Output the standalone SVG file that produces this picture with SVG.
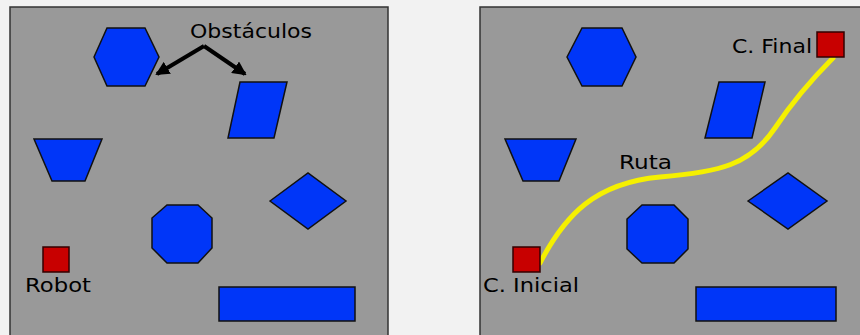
<svg xmlns="http://www.w3.org/2000/svg" width="860" height="335" viewBox="0 0 860 335">
<style>
.panel{fill:#999999;stroke:#333333;stroke-width:1.5}
.obs{fill:#0036f8;stroke:#111111;stroke-width:1.5;stroke-linejoin:miter}
.robot{fill:#c80000;stroke:#330000;stroke-width:1.5}
.lbl{font-family:"DejaVu Sans",Verdana,sans-serif;font-size:20px;fill:#000000}
.arrow{fill:none;stroke:#000;stroke-width:4;stroke-linejoin:miter}
.route{fill:none;stroke:#f5f000;stroke-width:5;stroke-linecap:round}
</style>
<defs>
<marker id="ah" markerWidth="3.5" markerHeight="3.5" refX="3" refY="1.75" orient="auto" markerUnits="strokeWidth">
<path d="M0,0 L3.5,1.75 L0,3.5 Z" fill="#000"/>
</marker>
</defs>
<rect x="0" y="0" width="860" height="335" fill="#f2f2f2"/>
<g id="panel-left">
<rect class="panel" x="10" y="7" width="378" height="340"/>
</g>
<g id="panel-right">
<rect class="panel" x="480" y="7" width="390" height="340"/>
</g>
<g id="left-obstacles">
<polygon id="l-hexagon" class="obs" points="94,57 107,28 145,28 159,57 145,86 107,86"/>
<polygon id="l-parallelogram" class="obs" points="240,82 287,82 274,138 228,138"/>
<polygon id="l-trapezoid" class="obs" points="34,139 102,139 85,181 52,181"/>
<polygon id="l-diamond" class="obs" points="270,201 308,173 346,201 308,229"/>
<polygon id="l-octagon" class="obs" points="167,205 198,205 212,218 212,248 198,263 167,263 152,248 152,218"/>
<rect id="l-rect" class="obs" x="219" y="287" width="136" height="34"/>
</g>
<g id="robot">
<rect class="robot" x="43" y="247" width="26" height="25"/>
<text class="lbl" x="25" y="292" textLength="66" lengthAdjust="spacingAndGlyphs">Robot</text>
</g>
<g id="label-obstaculos">
<text class="lbl" x="190" y="38" textLength="122" lengthAdjust="spacingAndGlyphs">Obstáculos</text>
</g>
<g id="connectors">
<path class="arrow" d="M204,46 L157,74" marker-end="url(#ah)"/>
<path class="arrow" d="M204,46 L245,74" marker-end="url(#ah)"/>
<path id="ruta" class="route" d="M540,263 C565,215 595,183 660,177 C720,172 750,165 775,128 C795,98 815,76 833,58"/>
</g>
<g id="right-obstacles">
<polygon id="r-hexagon" class="obs" points="567,57 582,28 622,28 636,57 622,86 582,86"/>
<polygon id="r-parallelogram" class="obs" points="719,82 765,82 752,138 705,138"/>
<polygon id="r-trapezoid" class="obs" points="505,139 576,139 559,181 523,181"/>
<polygon id="r-diamond" class="obs" points="748,201 788,173 827,201 788,229"/>
<polygon id="r-octagon" class="obs" points="642,205 674,205 688,219 688,249 674,263 642,263 627,249 627,219"/>
<rect id="r-rect" class="obs" x="696" y="287" width="140" height="34"/>
</g>
<g id="c-inicial">
<rect class="robot" x="513" y="247" width="27" height="25"/>
<text class="lbl" x="483" y="292" textLength="96" lengthAdjust="spacingAndGlyphs">C. Inicial</text>
</g>
<g id="c-final">
<rect class="robot" x="817" y="32" width="27" height="25"/>
<text class="lbl" x="732" y="53" textLength="80" lengthAdjust="spacingAndGlyphs">C. Final</text>
</g>
<g id="label-ruta">
<text class="lbl" x="619" y="169" textLength="53" lengthAdjust="spacingAndGlyphs">Ruta</text>
</g>
</svg>
